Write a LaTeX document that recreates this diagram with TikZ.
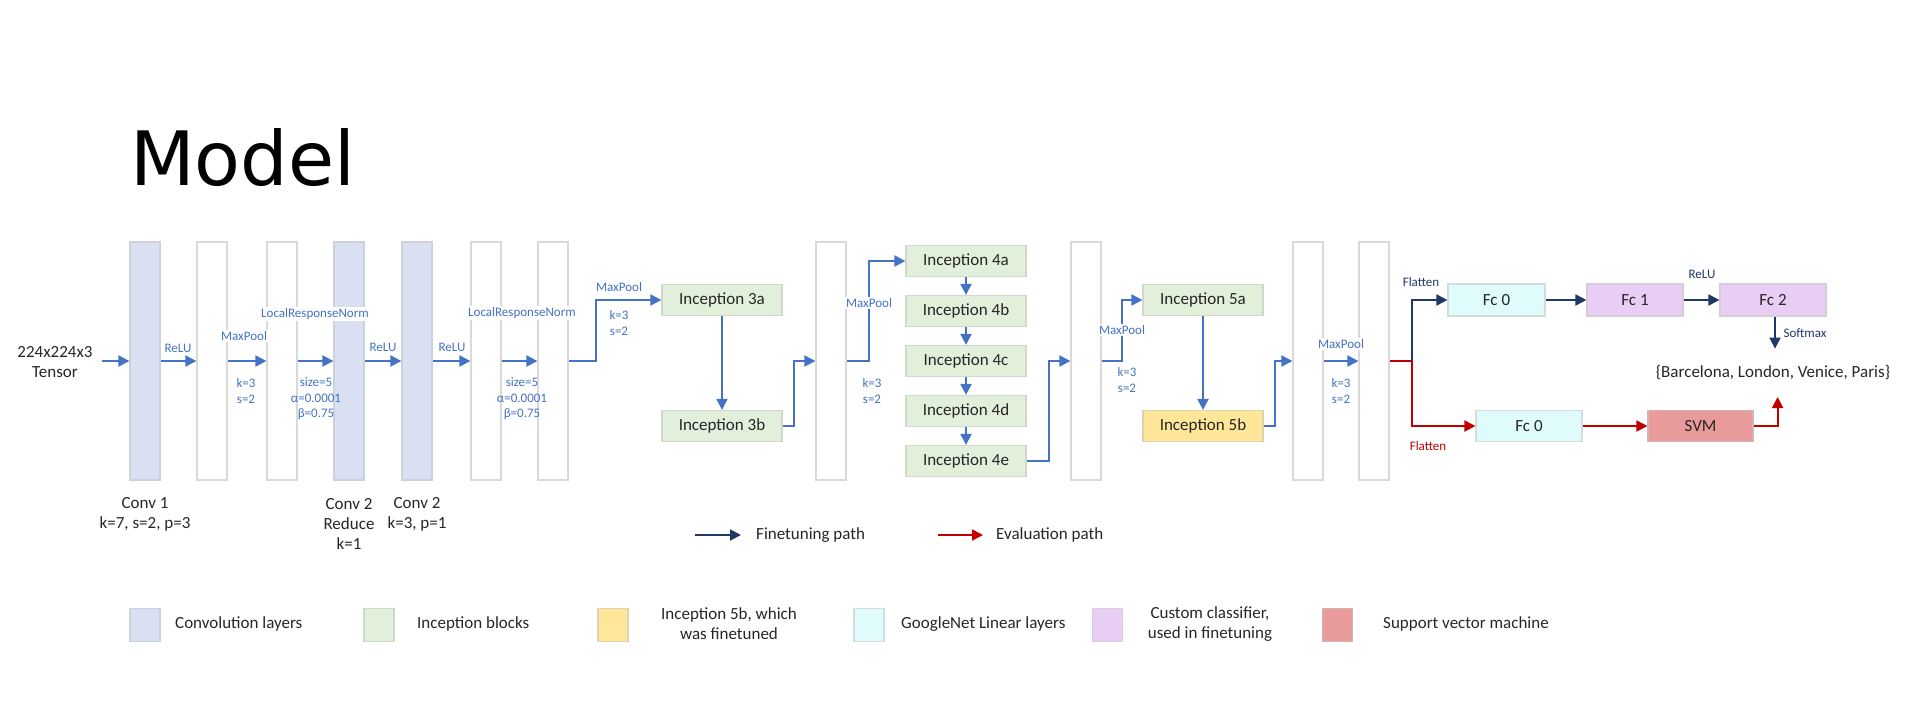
\documentclass[tikz,border=0pt]{standalone}
\usepackage{fontspec}
\setmainfont{Carlito}
\newfontfamily\titlefont{DejaVu Sans}
\usetikzlibrary{arrows.meta}

\definecolor{convf}{HTML}{D9E0F1}
\definecolor{convd}{HTML}{CDD1DB}
\definecolor{wbord}{HTML}{D9D9D9}
\definecolor{incf}{HTML}{E2EFDA}
\definecolor{incd}{HTML}{D0D8CB}
\definecolor{yelf}{HTML}{FFE699}
\definecolor{yeld}{HTML}{DDD3B2}
\definecolor{cyaf}{HTML}{DFFBFC}
\definecolor{cyad}{HTML}{D2DCDD}
\definecolor{lavf}{HTML}{E8CDF5}
\definecolor{lavd}{HTML}{D6CCDB}
\definecolor{svmf}{HTML}{E99A9A}
\definecolor{svmd}{HTML}{D4B3B3}
\definecolor{bluea}{HTML}{4472C4}
\definecolor{navy}{HTML}{1F3864}
\definecolor{reda}{HTML}{C00000}
\definecolor{txt}{HTML}{262626}

\begin{document}
\begin{tikzpicture}[x=1pt,y=-1pt,
  layer/.style={draw=wbord, fill=white, line width=1.2pt, minimum width=30pt,
    minimum height=238pt, inner sep=0pt},
  conv/.style={layer, draw=convd, fill=convf},
  blk/.style={line width=1.2pt, minimum width=120pt, minimum height=32pt,
    inner sep=0pt, font=\fontsize{17}{20}\selectfont, text=txt},
  incep/.style={blk, draw=incd, fill=incf, minimum height=31pt},
  body/.style={font=\fontsize{17}{20}\selectfont, text=txt, align=center, inner sep=0pt},
  lab/.style={font=\fontsize{13}{15.5}\selectfont, text=bluea, inner sep=1pt, align=center},
  wlab/.style={lab, fill=white},
  nlab/.style={lab, text=navy},
  rlab/.style={lab, text=reda},
  swatch/.style={minimum width=30pt, minimum height=33pt, inner sep=0pt, line width=1.2pt},
  barrow/.style={draw=bluea, line width=2pt, -{Triangle[length=11pt,width=11pt]}},
  narrow/.style={draw=navy, line width=2pt, -{Triangle[length=11pt,width=11pt]}},
  rarrow/.style={draw=reda, line width=2pt, -{Triangle[length=11pt,width=11pt]}},
  rline/.style={draw=reda, line width=2pt}
]
\useasboundingbox (0,0) rectangle (1905,707);

% title
\node[anchor=base west, inner sep=0pt, font=\titlefont\fontsize{75}{86}\selectfont] (title) at (130,185) {Model};

% input
\node[body] (inp) at (55,362) {224x224x3\\Tensor};
\coordinate (inpa) at (102,361);

% layer columns
\node[conv]  (L1)  at (145,361) {};
\node[layer] (L2)  at (212,361) {};
\node[layer] (L3)  at (282,361) {};
\node[conv]  (L4)  at (349,361) {};
\node[conv]  (L5)  at (417,361) {};
\node[layer] (L6)  at (486,361) {};
\node[layer] (L7)  at (553,361) {};
\node[layer] (L8)  at (831,361) {};
\node[layer] (L9)  at (1086,361) {};
\node[layer] (L10) at (1308,361) {};
\node[layer] (L11) at (1374,361) {};

% conv captions
\node[body] (c1t) at (145,514) {Conv 1\\k=7, s=2, p=3};
\node[body] (c2rt) at (349,524) {Conv 2\\Reduce\\k=1};
\node[body] (c2t) at (417,514) {Conv 2\\k=3, p=1};

% inception blocks
\node[incep] (i3a) at (722,300) {Inception 3a};
\node[incep] (i3b) at (722,426) {Inception 3b};
\node[incep] (i4a) at (966,261) {Inception 4a};
\node[incep] (i4b) at (966,311) {Inception 4b};
\node[incep] (i4c) at (966,361) {Inception 4c};
\node[incep] (i4d) at (966,411) {Inception 4d};
\node[incep] (i4e) at (966,461) {Inception 4e};
\node[incep] (i5a) at (1203,300) {Inception 5a};
\node[blk, draw=yeld, fill=yelf, minimum height=31pt] (i5b) at (1203,426) {Inception 5b};

% classifier heads
\node[blk, draw=cyad, fill=cyaf, minimum width=97pt] (fc0) at (1496.5,300) {Fc 0};
\node[blk, draw=lavd, fill=lavf, minimum width=96pt] (fc1) at (1635,300) {Fc 1};
\node[blk, draw=lavd, fill=lavf, minimum width=106pt] (fc2) at (1773,300) {Fc 2};
\node[blk, draw=cyad, fill=cyaf, minimum width=106pt, minimum height=31pt] (fc0e) at (1529,426) {Fc 0};
\node[blk, draw=svmd, fill=svmf, minimum width=105pt, minimum height=31pt] (svm) at (1700.5,426) {SVM};
\node[body] (out) at (1773,373) {\{Barcelona, London, Venice, Paris\}};

% main path
\draw[barrow] (inpa) -- (L1.west);
\draw[barrow] (L1.east) -- (L2.west);
\draw[barrow] (L2.east) -- (L3.west);
\draw[barrow] (L3.east) -- (L4.west);
\draw[barrow] (L4.east) -- (L5.west);
\draw[barrow] (L5.east) -- (L6.west);
\draw[barrow] (L6.east) -- (L7.west);
\draw[barrow] (L7.east) -- ++(27,0) |- (i3a.west);
\draw[barrow] (i3a.south) -- (i3b.north);
\draw[barrow] (i3b.east) -- ++(11,0) |- (L8.west);
\draw[barrow] (L8.east) -- ++(22,0) |- (i4a.west);
\draw[barrow] (i4a.south) -- (i4b.north);
\draw[barrow] (i4b.south) -- (i4c.north);
\draw[barrow] (i4c.south) -- (i4d.north);
\draw[barrow] (i4d.south) -- (i4e.north);
\draw[barrow] (i4e.east) -- ++(22,0) |- (L9.west);
\draw[barrow] (L9.east) -- ++(20,0) |- (i5a.west);
\draw[barrow] (i5a.south) -- (i5b.north);
\draw[barrow] (i5b.east) -- ++(11,0) |- (L10.west);
\draw[barrow] (L10.east) -- (L11.west);

% finetuning and evaluation branches
\coordinate (split) at (1412,361);
\draw[rline] (L11.east) -- (split);
\draw[narrow] (split) |- (fc0.west);
\draw[rarrow] (split) |- (fc0e.west);
\draw[narrow] (fc0.east) -- (fc1.west);
\draw[narrow] (fc1.east) -- (fc2.west);
\draw[narrow] ([xshift=2pt]fc2.south) -- ++(0,32);
\draw[rarrow] (fc0e.east) -- (svm.west);
\draw[rarrow] (svm.east) -- ++(24,0) -- ++(0,-29);

% operation labels
\node[lab] (r1) at (178,348) {ReLU};
\node[wlab] (mp1) at (244,336) {MaxPool};
\node[lab] (mp1p) at (246,391) {k=3\\s=2};
\node[wlab] (lrn1) at (315,314) {LocalResponseNorm};
\node[lab] (lrn1p) at (316,399) {size=5\\α=0.0001\\β=0.75};
\node[lab] (r2) at (383,347) {ReLU};
\node[lab] (r3) at (452,347) {ReLU};
\node[wlab] (lrn2) at (522,313) {LocalResponseNorm};
\node[lab] (lrn2p) at (522,399) {size=5\\α=0.0001\\β=0.75};
\node[lab] (mp2) at (619,287) {MaxPool};
\node[lab] (mp2p) at (619,323) {k=3\\s=2};
\node[wlab] (mp3) at (869,303) {MaxPool};
\node[lab] (mp3p) at (872,391) {k=3\\s=2};
\node[wlab] (mp4) at (1122,330) {MaxPool};
\node[lab] (mp4p) at (1127,380) {k=3\\s=2};
\node[wlab] (mp5) at (1341,344) {MaxPool};
\node[lab] (mp5p) at (1341,391) {k=3\\s=2};
\node[nlab] (fl1) at (1421,282) {Flatten};
\node[rlab] (fl2) at (1428,446) {Flatten};
\node[nlab] (r4) at (1702,274) {ReLU};
\node[nlab] (sm) at (1805,333) {Softmax};

% path legend
\coordinate (lgn) at (695,535);
\node[body, anchor=west] (lgnt) at (756,535) {Finetuning path};
\draw[narrow] (lgn) -- ([xshift=-15pt]lgnt.west);
\coordinate (lgr) at (938,535);
\node[body, anchor=west] (lgrt) at (996,535) {Evaluation path};
\draw[rarrow] (lgr) -- ([xshift=-13pt]lgrt.west);

% colour legend
\node[swatch, draw=convd, fill=convf] (s1) at (145,625) {};
\node[body, anchor=west] (s1t) at (175,624) {Convolution layers};
\node[swatch, draw=incd, fill=incf] (s2) at (379,625) {};
\node[body, anchor=west] (s2t) at (417,624) {Inception blocks};
\node[swatch, draw=yeld, fill=yelf] (s3) at (613,625) {};
\node[body] (s3t) at (729,624) {Inception 5b, which\\was finetuned};
\node[swatch, draw=cyad, fill=cyaf] (s4) at (869,625) {};
\node[body, anchor=west] (s4t) at (901,624) {GoogleNet Linear layers};
\node[swatch, draw=lavd, fill=lavf] (s5) at (1107.5,625) {};
\node[body] (s5t) at (1210,624) {Custom classifier,\\used in finetuning};
\node[swatch, draw=svmd, fill=svmf] (s6) at (1337.5,625) {};
\node[body, anchor=west] (s6t) at (1383,624) {Support vector machine};
\end{tikzpicture}
\end{document}
